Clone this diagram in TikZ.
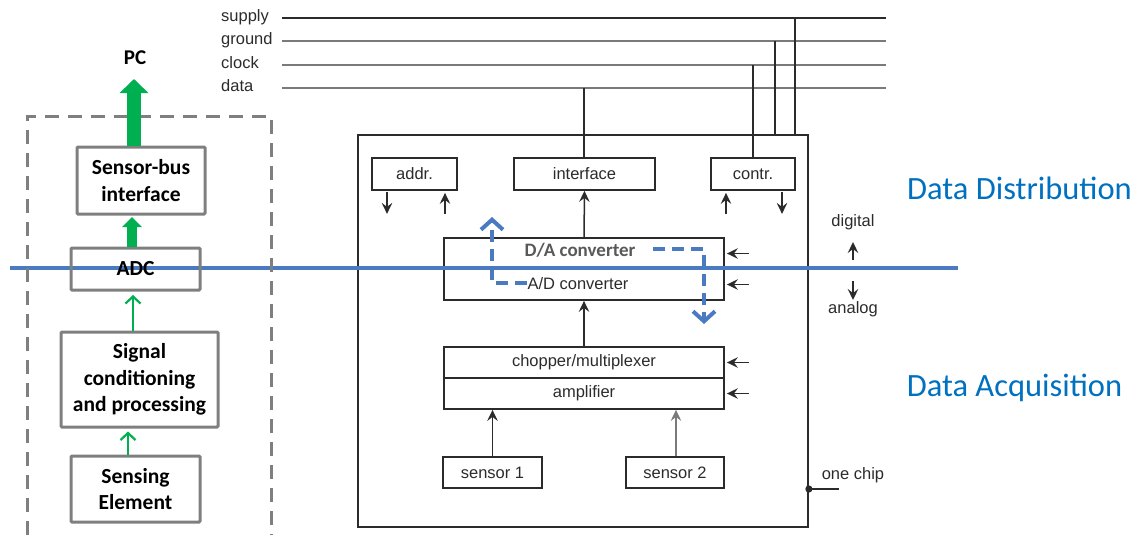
\documentclass[tikz,border=0pt]{standalone}
\usepackage{fontspec}
\setmainfont{Liberation Sans}
\newfontfamily\calfont{Carlito}
\usetikzlibrary{arrows.meta,calc}

\definecolor{boxgray}{HTML}{7F7F7F}
\definecolor{sigblue}{HTML}{4A7BC0}
\definecolor{labelblue}{HTML}{0070C0}
\definecolor{flowgreen}{HTML}{00B050}
\definecolor{ink}{HTML}{2B2B2B}
\definecolor{busgray}{HTML}{7A7A7A}
\definecolor{dagray}{HTML}{595959}

\begin{document}
\begin{tikzpicture}[x=1pt,y=-1pt,
  blockbox/.style={draw=boxgray, line width=3pt, rounded corners=1pt, align=center,
    inner sep=0pt, font=\calfont\bfseries\fontsize{21.5}{26.5}\selectfont},
  chipbox/.style={draw=ink, line width=1.8pt, inner sep=0pt, text=ink,
    font=\fontsize{16.5}{19}\selectfont},
  chiptext/.style={text=ink, inner sep=0pt, font=\fontsize{16.5}{19}\selectfont},
  chiparrow/.style={draw=ink, line width=1.5pt, -{Stealth[length=11pt,width=10.5pt,inset=4pt]}},
  busline/.style={draw=busgray, line width=1.2pt},
  supplyline/.style={draw=ink, line width=2.6pt},
  drop/.style={draw=ink, line width=1.3pt},
  bigarrow/.style={draw=flowgreen, line width=14pt, -{Triangle[length=14pt,width=28pt]}},
  midarrow/.style={draw=flowgreen, line width=10pt, -{Triangle[length=10pt,width=19pt]}},
  thinarrow/.style={draw=flowgreen, line width=2.2pt, -{Straight Barb[length=7pt,width=15pt]}},
  flowarrow/.style={draw=sigblue, line width=4pt, dash pattern=on 12pt off 7pt,
    -{Straight Barb[length=10pt,width=22pt]}},
]
\useasboundingbox (0,0) rectangle (1148,535);

% ---------------- chip ----------------
\node[chipbox, minimum width=450pt, minimum height=392pt] (chip) at (583,331) {};

\node[chipbox, minimum width=85pt,  minimum height=32pt] (addr)  at (414.5,174) {addr.};
\node[chipbox, minimum width=141pt, minimum height=32pt] (iface) at (584.5,174) {interface};
\node[chipbox, minimum width=84pt,  minimum height=32pt] (contr) at (753,174)   {contr.};

\node[chipbox, minimum width=280pt, minimum height=31pt] (da)   at (584,253.5) {};
\node[chipbox, minimum width=280pt, minimum height=31pt] (ad)   at (584,284.5) {};
\node[chipbox, minimum width=280pt, minimum height=31pt] (chop) at (584,362.5) {chopper/multiplexer};
\node[chipbox, minimum width=280pt, minimum height=31pt] (amp)  at (584,393.5) {amplifier};

\node[chipbox, minimum width=99pt, minimum height=31pt] (s1) at (492.5,472.5) {sensor 1};
\node[chipbox, minimum width=98pt, minimum height=31pt] (s2) at (675,472.5) {sensor 2};

% bus lines
\node[chiptext, anchor=west] (lsup) at (221,17) {supply};
\node[chiptext, anchor=west] (lgnd) at (221,40) {ground};
\node[chiptext, anchor=west] (lclk) at (221,63) {clock};
\node[chiptext, anchor=west] (ldat) at (221,86) {data};

\coordinate (supL) at (282,18);  \coordinate (supR) at (886,18);
\coordinate (gndL) at (282,41);  \coordinate (gndR) at (886,41);
\coordinate (clkL) at (282,65);  \coordinate (clkR) at (886,65);
\coordinate (datL) at (282,88);  \coordinate (datR) at (886,88);
\draw[supplyline] (supL) -- (supR);
\draw[busline] (gndL) -- (gndR);
\draw[busline] (clkL) -- (clkR);
\draw[busline] (datL) -- (datR);

\coordinate (tapDat) at (584,88);
\coordinate (tapClk) at (753,65);
\coordinate (tapGnd) at (775,41);
\coordinate (tapSup) at (795,18);
\draw[drop] (tapDat) -- (tapDat |- iface.north);
\draw[drop] (tapClk) -- (tapClk |- contr.north);
\draw[drop] (tapGnd) -- (tapGnd |- chip.north);
\draw[drop] (tapSup) -- (tapSup |- chip.north);

% internal signal arrows
\draw[chiparrow] ([xshift=-27.5pt,yshift=-1pt]addr.south) -- ([xshift=-27.5pt,yshift=-23pt]addr.south);
\draw[chiparrow] ([xshift=30.5pt,yshift=-23pt]addr.south) -- ([xshift=30.5pt,yshift=-2pt]addr.south);
\draw[chiparrow] ([xshift=-27pt,yshift=-23pt]contr.south) -- ([xshift=-27pt,yshift=-2pt]contr.south);
\draw[chiparrow] ([xshift=29pt,yshift=-1pt]contr.south) -- ([xshift=29pt,yshift=-23pt]contr.south);

\draw[chiparrow] (da.north) -- (iface.south);
\draw[chiparrow] (chop.north) -- (ad.south);
\draw[chiparrow, line width=1.9pt] (s1.north) -- (s1.north |- amp.south);
\draw[chiparrow, draw=busgray, line width=1.2pt] ([xshift=1pt]s2.north) -- ([xshift=1pt]s2.north |- amp.south);

\foreach \n in {da,ad,chop,amp}
  \draw[chiparrow] ([xshift=24pt]\n.east) -- ([xshift=2pt]\n.east);

% digital / analog marker
\coordinate (split) at (853,270);
\node[chiptext] (dig) at (853,222) {digital};
\node[chiptext] (ana) at (853,309) {analog};
\draw[chiparrow] ([yshift=10pt]split) -- ([yshift=28pt]split);
\draw[chiparrow] ([yshift=-11pt]split) -- ([yshift=-30pt]split);

% one chip tag
\coordinate (tag) at ([yshift=-158pt]chip.east);
\fill[ink] (tag) circle (3.6pt);
\draw[drop, line width=1.8pt] (tag) -- ++(30,0);
\node[chiptext] (onechip) at (853,475) {one chip};

% ---------------- domain divider ----------------
\coordinate (divL) at (10,268);
\coordinate (divR) at (958,268);
\draw[sigblue, line width=4pt] (divL) -- (divR);

\node[inner sep=0pt, text=dagray, font=\calfont\bfseries\fontsize{19}{21}\selectfont] at (580,250) {D/A converter};
\node[chiptext] at (578,284) {A/D converter};

% data flow through the converters
\coordinate (upS) at (527,283);
\coordinate (upC) at (492,283);
\coordinate (upE) at (492,217);
\draw[flowarrow] (upS) -- (upC) -- (upE);
\coordinate (dnS) at (653,249);
\coordinate (dnC) at (704,249);
\coordinate (dnE) at (704,324);
\draw[flowarrow] (dnS) -- (dnC) -- (dnE);

\node[text=labelblue, inner sep=0pt, font=\calfont\fontsize{32.5}{36}\selectfont] (ddist) at (1019.5,188) {Data Distribution};
\node[text=labelblue, inner sep=0pt, font=\calfont\fontsize{32.5}{36}\selectfont] (dacq)  at (1014.5,388) {Data Acquisition};

% ---------------- sensor node ----------------
\draw[boxgray, line width=3pt, dash pattern=on 14pt off 9pt] (27,535) -- (27,116) -- (271,116) -- (271,535);

\node[font=\calfont\bfseries\fontsize{21}{24}\selectfont] (pc) at (135,58) {PC};
\node[blockbox, minimum width=128pt, minimum height=67pt] (sbi) at (141,180.5) {Sensor-bus\\interface};
\node[blockbox, minimum width=129pt, minimum height=42pt] (adc) at (135.5,269) {ADC};
\node[blockbox, minimum width=157pt, minimum height=95pt] (scp) at (139.5,379.5) {Signal\\conditioning\\and processing};
\node[blockbox, minimum width=129pt, minimum height=66pt] (se)  at (135.5,489) {Sensing\\Element};

\coordinate (pctip) at (134,79);
\coordinate (colB) at (132,0);
\coordinate (colC) at (133,0);
\coordinate (colD) at (128,0);
\draw[bigarrow] (sbi.north -| pctip) -- (pctip);
\draw[midarrow, shorten >=1.5pt] (adc.north -| colB) -- (sbi.south -| colB);
\draw[thinarrow, shorten >=3.5pt] (scp.north -| colC) -- (adc.south -| colC);
\draw[thinarrow, shorten >=3pt] (se.north -| colD) -- (scp.south -| colD);
\end{tikzpicture}
\end{document}
